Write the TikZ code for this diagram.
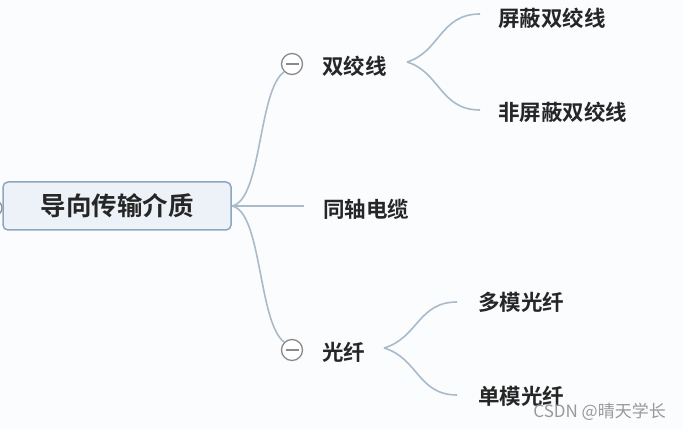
\documentclass[tikz,border=0pt]{standalone}
\usepackage{fontspec}
\setmainfont{Noto Sans CJK SC}
\newfontfamily\cjkb{Noto Sans CJK SC Bold}
\newfontfamily\cjkr{Noto Sans CJK SC}
\definecolor{link}{HTML}{A9BBCB}
\definecolor{rootfill}{HTML}{EDF2F8}
\definecolor{rootdraw}{HTML}{8FA6C0}
\definecolor{tog}{HTML}{8A8A8A}
\definecolor{bg}{HTML}{FBFCFD}
\begin{document}
\begin{tikzpicture}[x=1pt,y=-1pt,
  link/.style={draw=link,line width=1.6pt},
  rootbox/.style={draw=rootdraw,fill=rootfill,line width=1.5pt,rounded corners=5pt,minimum width=228pt,minimum height=48pt,font=\cjkb\fontsize{25.5}{29}\selectfont,text=black!85},
  leaf/.style={anchor=west,inner sep=0pt,font=\cjkb\fontsize{21.5}{25}\selectfont,text=black!85},
  toggle/.style={circle,draw=tog,fill=white,line width=1.3pt,minimum size=21pt,inner sep=0pt}]
\clip (0,0) rectangle (682,430);
\fill[bg] (0,0) rectangle (682,430);
% left stub circle
\draw[tog,line width=1.2pt] (-6,208) circle (8pt);
% root
\node[rootbox] (root) at (117,206) {导向传输介质};
% toggles
\node[toggle] (t1) at (292,64) {};
\draw[tog,line width=1.4pt] ([xshift=-6.5pt]t1.center) -- ([xshift=6.5pt]t1.center);
\node[toggle] (t2) at (292,350) {};
\draw[tog,line width=1.4pt] ([xshift=-6.5pt]t2.center) -- ([xshift=6.5pt]t2.center);
% labels
\node[leaf] (shj) at (322,66) {双绞线};
\node[leaf] (tz) at (323,209) {同轴电缆};
\node[leaf] (gx) at (322,352) {光纤};
\node[leaf] (pb) at (498,18) {屏蔽双绞线};
\node[leaf] (fpb) at (498,112) {非屏蔽双绞线};
\node[leaf] (dm) at (478,302) {多模光纤};
\node[leaf] (dn) at (478,396) {单模光纤};
% fork coordinates
\coordinate (r0) at (232,206);
\coordinate (f1) at (407,62);
\coordinate (e1) at (480,14);
\coordinate (e2) at (480,110);
\coordinate (f2) at (384,348);
\coordinate (e3) at (457,302);
\coordinate (e4) at (457,395);
\coordinate (tze) at (304,206);
% connectors
\draw[link] (r0) .. controls (262,200) and (258,90) .. (t1.south west);
\draw[link] (r0) -- (tze);
\draw[link] (r0) .. controls (262,212) and (258,322) .. (t2.north west);
\draw[link] (f1) .. controls (440,52) and (440,14) .. (e1);
\draw[link] (f1) .. controls (440,72) and (440,110) .. (e2);
\draw[link] (f2) .. controls (418,338) and (418,302) .. (e3);
\draw[link] (f2) .. controls (418,358) and (418,395) .. (e4);
% watermark
\node[anchor=east,inner sep=0pt,font=\cjkr\fontsize{17}{20}\selectfont,text=black!40] (wm) at (666,412) {CSDN @晴天学长};
\end{tikzpicture}
\end{document}
